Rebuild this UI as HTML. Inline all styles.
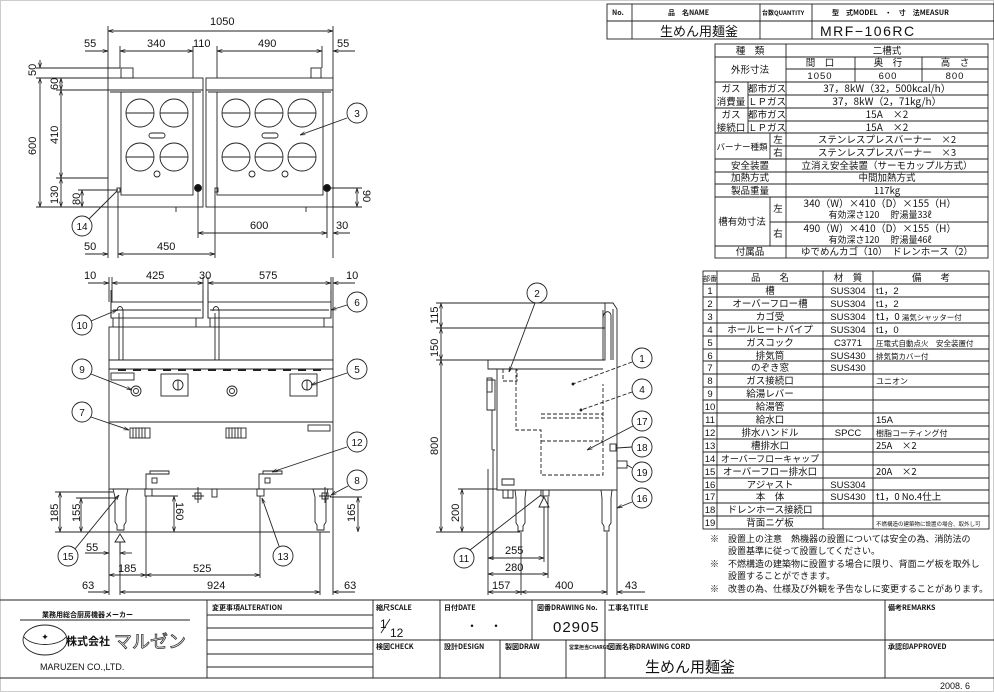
<!DOCTYPE html>
<html><head><meta charset="utf-8"><style>
html,body{margin:0;padding:0;background:#fff}
svg{display:block}
text{font-family:"Liberation Sans","Noto Sans CJK JP",sans-serif;fill:#111}
.j{font-family:"Noto Sans CJK JP","Liberation Sans",sans-serif}
</style></head><body>
<svg width="994" height="692" viewBox="0 0 994 692" xmlns="http://www.w3.org/2000/svg">
<defs>
<marker id="a" viewBox="0 0 10 10" refX="10" refY="5" markerWidth="6" markerHeight="6" orient="auto-start-reverse"><path d="M0,2 L10,5 L0,8" fill="none" stroke="#222" stroke-width="1.2"/></marker>
</defs>
<rect x="0.5" y="0.5" width="993" height="691" fill="none" stroke="#ccc"/>
<g stroke="#222" stroke-width="0.9" fill="none">
<!-- TOP VIEW -->
<rect x="108" y="78" width="95" height="129"/>
<rect x="206" y="78" width="127" height="129"/>
<line x1="108" y1="90" x2="203" y2="90"/><line x1="206" y1="90" x2="333" y2="90"/>
<line x1="110" y1="92" x2="201" y2="92"/><line x1="208" y1="92" x2="331" y2="92"/>
<rect x="121" y="92" width="72" height="103"/><rect x="217" y="92" width="106" height="103"/>
<rect x="121" y="68" width="12" height="10"/><rect x="311" y="68" width="10" height="10"/>
<g>
<circle cx="140" cy="113" r="14"/><circle cx="174" cy="113" r="14"/><circle cx="140" cy="157" r="14"/><circle cx="174" cy="157" r="14"/>
<circle cx="236" cy="113" r="14"/><circle cx="269" cy="113" r="14"/><circle cx="302" cy="113" r="14"/>
<circle cx="236" cy="157" r="14"/><circle cx="269" cy="157" r="14"/><circle cx="302" cy="157" r="14"/>
<path d="M126,113h28M160,113h28M126,157h28M160,157h28M222,113h28M255,113h28M288,113h28M222,157h28M255,157h28M288,157h28"/>
<rect x="149" y="133" width="16" height="5" rx="2.5"/><rect x="262" y="133" width="16" height="5" rx="2.5"/>
<circle cx="157" cy="174" r="3"/><circle cx="252" cy="174" r="3"/><circle cx="285" cy="174" r="3"/>
</g>
<circle cx="198" cy="188" r="3.5" fill="#111"/><circle cx="327" cy="188" r="3.5" fill="#111"/>
<rect x="117" y="188" width="3" height="4"/><rect x="215" y="188" width="3" height="4"/>
<path d="M176,207v5M306,207v5"/>
<line x1="108" y1="31" x2="333" y2="31" marker-start="url(#a)" marker-end="url(#a)"/>
<line x1="108" y1="26" x2="108" y2="78"/><line x1="333" y1="26" x2="333" y2="78"/>
<line x1="120" y1="51" x2="193" y2="51" marker-start="url(#a)" marker-end="url(#a)"/>
<line x1="217" y1="51" x2="322" y2="51" marker-start="url(#a)" marker-end="url(#a)"/>
<line x1="85" y1="51" x2="108" y2="51" marker-end="url(#a)"/><line x1="355" y1="51" x2="333" y2="51" marker-end="url(#a)"/>
<line x1="193" y1="46" x2="193" y2="78"/><line x1="217" y1="46" x2="217" y2="78"/><line x1="120" y1="46" x2="120" y2="68"/><line x1="322" y1="46" x2="322" y2="68"/>
<line x1="36" y1="68" x2="120" y2="68"/><line x1="36" y1="78" x2="108" y2="78"/><line x1="56" y1="90" x2="108" y2="90"/><line x1="56" y1="178" x2="108" y2="178"/><line x1="36" y1="207" x2="108" y2="207"/><line x1="78" y1="190" x2="118" y2="190"/>
<line x1="40" y1="78" x2="40" y2="207" marker-start="url(#a)" marker-end="url(#a)"/><line x1="40" y1="60" x2="40" y2="68" marker-end="url(#a)"/>
<line x1="61" y1="90" x2="61" y2="178" marker-start="url(#a)" marker-end="url(#a)"/><line x1="61" y1="178" x2="61" y2="207" marker-start="url(#a)" marker-end="url(#a)"/><line x1="61" y1="78" x2="61" y2="90" marker-start="url(#a)" marker-end="url(#a)"/>
<line x1="82" y1="190" x2="82" y2="207" marker-start="url(#a)" marker-end="url(#a)"/>
<line x1="357" y1="188" x2="357" y2="207" marker-start="url(#a)" marker-end="url(#a)"/><line x1="330" y1="188" x2="362" y2="188"/><line x1="333" y1="207" x2="362" y2="207"/>
<line x1="198" y1="190" x2="198" y2="238"/><line x1="327" y1="190" x2="327" y2="238"/><line x1="333" y1="207" x2="333" y2="258"/>
<line x1="198" y1="233" x2="327" y2="233" marker-start="url(#a)" marker-end="url(#a)"/><line x1="350" y1="233" x2="333" y2="233" marker-end="url(#a)"/>
<line x1="108" y1="207" x2="108" y2="258"/><line x1="118" y1="192" x2="118" y2="258"/><line x1="215" y1="192" x2="215" y2="258"/>
<line x1="85" y1="254" x2="108" y2="254" marker-end="url(#a)"/><line x1="118" y1="254" x2="215" y2="254" marker-start="url(#a)" marker-end="url(#a)"/>
<circle cx="357" cy="113" r="10"/><line x1="347" y1="118" x2="300" y2="135" marker-end="url(#a)"/>
<circle cx="82" cy="226" r="10"/><line x1="89" y1="219" x2="117" y2="191"/>

<!-- FRONT VIEW -->
<path d="M111,290v28M203,290v28M208,290v28M331,290v28"/>
<rect x="111" y="302" width="92" height="16"/><rect x="208" y="302" width="123" height="16"/>
<line x1="113" y1="310" x2="201" y2="310"/><line x1="210" y1="310" x2="329" y2="310"/>
<path d="M113,318v9M196,318v9M210,318v9M324,318v9"/>
<rect x="109" y="327" width="224" height="33"/>
<rect x="109" y="360" width="224" height="9"/>
<path d="M117,311c0,-6 6,-6 6,0v49M119,313v47M213,311c0,-6 6,-6 6,0v49M215,313v47"/>
<rect x="109" y="369" width="224" height="120"/>
<line x1="109" y1="422" x2="333" y2="422"/>
<path stroke-width="2" d="M118,370h8M133,370h8M148,370h8M163,370h8M178,370h8M193,370h8M208,370h8M223,370h8M238,370h8M253,370h8M268,370h8M283,370h8M298,370h8M313,370h8"/>
<rect x="111" y="373" width="23" height="7"/><rect x="308" y="425" width="22" height="6"/>
<rect x="161" y="374" width="27" height="22"/><rect x="290" y="374" width="27" height="22"/>
<circle cx="178" cy="385" r="5"/><line x1="178" y1="380" x2="178" y2="390"/><circle cx="307" cy="385" r="5"/><line x1="307" y1="380" x2="307" y2="390"/>
<circle cx="136" cy="391" r="5"/><circle cx="136" cy="391" r="2.5"/><circle cx="232" cy="391" r="5"/><circle cx="232" cy="391" r="2.5"/>
<rect x="130" y="428" width="20" height="10"/><rect x="226" y="428" width="20" height="10"/>
<path d="M133,428v10M136,428v10M139,428v10M142,428v10M145,428v10M229,428v10M232,428v10M235,428v10M238,428v10M241,428v10"/>
<path d="M146,489v-15h4v-3h19v3h-19"/><rect x="152" y="478" width="5" height="5"/><rect x="145" y="489" width="7" height="7"/>
<path d="M259,489v-15h4v-3h19v3h-19"/><rect x="265" y="478" width="5" height="5"/><rect x="257" y="489" width="7" height="7"/>
<path d="M113,489h15l-2,8v25l-2,3v5h-7v-5l-2,-3v-25z"/><path d="M313,489h15l-2,8v25l-2,3v5h-7v-5l-2,-3v-25z"/>
<rect x="195" y="493" width="6" height="6"/><path d="M198,487v16M192,496h12"/><rect x="212" y="489" width="5" height="8"/>
<rect x="322" y="493" width="6" height="6"/><path d="M325,487v16M319,496h12"/>
<path d="M120,534l-5,8h10z"/><line x1="120" y1="542" x2="120" y2="555"/>
<line x1="109" y1="277" x2="109" y2="302"/><line x1="112" y1="277" x2="112" y2="302"/><line x1="203" y1="277" x2="203" y2="302"/><line x1="208" y1="277" x2="208" y2="302"/><line x1="331" y1="277" x2="331" y2="302"/><line x1="333" y1="277" x2="333" y2="327"/>
<line x1="112" y1="283" x2="203" y2="283" marker-start="url(#a)" marker-end="url(#a)"/><line x1="208" y1="283" x2="331" y2="283" marker-start="url(#a)" marker-end="url(#a)"/>
<line x1="88" y1="283" x2="109" y2="283" marker-end="url(#a)"/><line x1="355" y1="283" x2="333" y2="283" marker-end="url(#a)"/>
<line x1="55" y1="492" x2="113" y2="492"/><line x1="76" y1="498" x2="118" y2="498"/><line x1="55" y1="532" x2="330" y2="532"/><line x1="330" y1="497" x2="362" y2="497"/>
<line x1="60" y1="492" x2="60" y2="532" marker-start="url(#a)" marker-end="url(#a)"/>
<line x1="81" y1="498" x2="81" y2="532" marker-start="url(#a)" marker-end="url(#a)"/>
<line x1="174" y1="496" x2="174" y2="532" marker-start="url(#a)" marker-end="url(#a)"/><line x1="152" y1="496" x2="178" y2="496"/>
<line x1="358" y1="497" x2="358" y2="532" marker-start="url(#a)" marker-end="url(#a)"/>
<line x1="109" y1="489" x2="109" y2="595"/><line x1="146" y1="496" x2="146" y2="578"/><line x1="260" y1="496" x2="260" y2="578"/><line x1="320" y1="532" x2="320" y2="595"/><line x1="333" y1="489" x2="333" y2="595"/>
<line x1="85" y1="553" x2="109" y2="553" marker-end="url(#a)"/><line x1="132" y1="553" x2="120" y2="553" marker-end="url(#a)"/>
<line x1="109" y1="575" x2="146" y2="575" marker-start="url(#a)" marker-end="url(#a)"/><line x1="146" y1="575" x2="260" y2="575" marker-start="url(#a)" marker-end="url(#a)"/>
<line x1="120" y1="592" x2="320" y2="592" marker-start="url(#a)" marker-end="url(#a)"/><line x1="88" y1="592" x2="109" y2="592" marker-end="url(#a)"/><line x1="355" y1="592" x2="333" y2="592" marker-end="url(#a)"/><line x1="120" y1="542" x2="120" y2="595"/>
<circle cx="82" cy="325" r="10"/><line x1="91" y1="321" x2="117" y2="310" marker-end="url(#a)"/>
<circle cx="357" cy="302" r="10"/><line x1="347" y1="305" x2="331" y2="310" marker-end="url(#a)"/>
<circle cx="82" cy="369" r="10"/><line x1="91" y1="374" x2="132" y2="390" marker-end="url(#a)"/>
<circle cx="357" cy="369" r="10"/><line x1="347" y1="373" x2="311" y2="385" marker-end="url(#a)"/>
<circle cx="82" cy="412" r="10"/><line x1="91" y1="417" x2="129" y2="430" marker-end="url(#a)"/>
<circle cx="357" cy="442" r="10"/><line x1="347" y1="447" x2="272" y2="472" marker-end="url(#a)"/>
<circle cx="357" cy="480" r="10"/><line x1="348" y1="486" x2="331" y2="495" marker-end="url(#a)"/>
<circle cx="68" cy="556" r="10"/><line x1="75" y1="549" x2="119" y2="495" marker-end="url(#a)"/>
<circle cx="283" cy="556" r="10"/><line x1="279" y1="546" x2="262" y2="498" marker-end="url(#a)"/>

<!-- SIDE VIEW -->
<path d="M488,360h117v-57h8l4,6v181h-120v-121h-9z"/>
<line x1="488" y1="369" x2="603" y2="369"/><line x1="603" y1="310" x2="603" y2="360"/><line x1="613" y1="309" x2="613" y2="360"/>
<path d="M603,318c0,-8 8,-8 8,-2v44" />
<path stroke-dasharray="4,2" d="M516,369v61h25v45h62v-91M541,414h62M541,418h62M541,441h62"/>
<path stroke-dasharray="4,2" d="M503,369v12h14v-12"/>
<path d="M495,380h-8v30h8zM492,410v40M495,450h-2v110M493,460v100"/>
<rect x="487" y="378" width="5" height="14"/>
<path d="M502,479h12v6h-12zM503,490v8h10v-8M508,490v8"/>
<path d="M515,490h11l-1,8v25l-2,3v5h-5v-5l-2,-3v-25z"/><path d="M601,490h11l-1,8v25l-2,3v5h-5v-5l-2,-3v-25z"/>
<rect x="541" y="490" width="8" height="6"/><path d="M543,490v8"/>
<path d="M544,497l-5,10h10z"/><line x1="544" y1="507" x2="544" y2="562"/>
<rect x="610" y="444" width="6" height="7"/><rect x="617" y="461" width="10" height="7"/>
<line x1="617" y1="490" x2="617" y2="595"/><line x1="607" y1="532" x2="607" y2="595"/><line x1="488" y1="469" x2="488" y2="595"/><line x1="548" y1="497" x2="548" y2="578"/><line x1="521" y1="532" x2="521" y2="595"/>
<line x1="436" y1="303" x2="613" y2="303"/><line x1="436" y1="328" x2="605" y2="328"/><line x1="436" y1="360" x2="488" y2="360"/><line x1="436" y1="532" x2="520" y2="532"/><line x1="458" y1="489" x2="497" y2="489"/>
<line x1="441" y1="303" x2="441" y2="328" marker-start="url(#a)" marker-end="url(#a)"/><line x1="441" y1="328" x2="441" y2="360" marker-start="url(#a)" marker-end="url(#a)"/><line x1="441" y1="360" x2="441" y2="532" marker-start="url(#a)" marker-end="url(#a)"/>
<line x1="462" y1="489" x2="462" y2="532" marker-start="url(#a)" marker-end="url(#a)"/>
<line x1="488" y1="558" x2="544" y2="558" marker-start="url(#a)" marker-end="url(#a)"/>
<line x1="488" y1="574" x2="548" y2="574" marker-start="url(#a)" marker-end="url(#a)"/>
<line x1="488" y1="592" x2="521" y2="592" marker-start="url(#a)" marker-end="url(#a)"/><line x1="521" y1="592" x2="607" y2="592" marker-start="url(#a)" marker-end="url(#a)"/><line x1="617" y1="592" x2="645" y2="592" marker-start="url(#a)"/>
<circle cx="537" cy="293" r="10"/><line x1="535" y1="303" x2="509" y2="372" marker-end="url(#a)"/>
<circle cx="642" cy="358" r="10"/><line x1="632" y1="362" x2="573" y2="384" stroke-dasharray="4,2"/>
<circle cx="642" cy="389" r="10"/><line x1="632" y1="392" x2="581" y2="410" stroke-dasharray="4,2"/>
<circle cx="642" cy="421" r="10"/><line x1="633" y1="426" x2="587" y2="450" marker-end="url(#a)"/>
<circle cx="642" cy="447" r="10"/><line x1="632" y1="447" x2="617" y2="448"/>
<circle cx="642" cy="472" r="10"/><line x1="632" y1="468" x2="627" y2="465"/>
<circle cx="642" cy="498" r="10"/><line x1="632" y1="502" x2="617" y2="508" marker-end="url(#a)"/>
<circle cx="464" cy="558" r="10"/><line x1="470" y1="550" x2="541" y2="495"/>
<circle cx="573" cy="384" r="1" fill="#111"/><circle cx="581" cy="410" r="1" fill="#111"/>
</g>

<g font-size="11">
<text x="210" y="25">1050</text>
<text x="84" y="47">55</text><text x="147" y="47">340</text><text x="193" y="47">110</text><text x="258" y="47">490</text><text x="337" y="47">55</text>
<text x="250" y="229">600</text><text x="336" y="229">30</text>
<text x="84" y="250">50</text><text x="157" y="250">450</text>
<text transform="translate(36,76) rotate(-90)">50</text>
<text transform="translate(36,155) rotate(-90)">600</text>
<text transform="translate(58,90) rotate(-90)">60</text>
<text transform="translate(58,144) rotate(-90)">410</text>
<text transform="translate(58,204) rotate(-90)">130</text>
<text transform="translate(80,205) rotate(-90)">80</text>
<text transform="translate(363,190) rotate(90)">90</text>
<text x="84" y="279">10</text><text x="146" y="279">425</text><text x="199" y="279">30</text><text x="259" y="279">575</text><text x="346" y="279">10</text>
<text transform="translate(58,522) rotate(-90)">185</text>
<text transform="translate(80,522) rotate(-90)">155</text>
<text transform="translate(176,502) rotate(90)">160</text>
<text transform="translate(355,522) rotate(-90)">165</text>
<text x="86" y="551">55</text><text x="118" y="572">185</text><text x="193" y="572">525</text>
<text x="82" y="589">63</text><text x="207" y="589">924</text><text x="344" y="589">63</text>
<text transform="translate(438,324) rotate(-90)">115</text>
<text transform="translate(438,357) rotate(-90)">150</text>
<text transform="translate(438,455) rotate(-90)">800</text>
<text transform="translate(459,522) rotate(-90)">200</text>
<text x="505" y="554">255</text><text x="505" y="571">280</text>
<text x="492" y="589">157</text><text x="555" y="589">400</text><text x="625" y="589">43</text>
</g>
<g font-size="10" text-anchor="middle">
<text x="357" y="117">3</text><text x="82" y="230">14</text>
<text x="82" y="329">10</text><text x="357" y="306">6</text><text x="82" y="373">9</text><text x="357" y="373">5</text><text x="82" y="416">7</text><text x="357" y="446">12</text><text x="357" y="484">8</text><text x="68" y="560">15</text><text x="283" y="560">13</text>
<text x="537" y="297">2</text><text x="642" y="362">1</text><text x="642" y="393">4</text><text x="642" y="425">17</text><text x="642" y="451">18</text><text x="642" y="476">19</text><text x="642" y="502">16</text><text x="464" y="562">11</text>
</g>

<g stroke="#222" stroke-width="0.9" fill="none">
<rect x="607" y="4" width="387" height="35"/>
<line x1="607" y1="21" x2="994" y2="21"/>
<line x1="632" y1="4" x2="632" y2="39"/><line x1="760" y1="4" x2="760" y2="39"/><line x1="812" y1="4" x2="812" y2="39"/>
</g>
<g font-size="7" font-weight="bold">
<text x="612" y="15" class="j">No.</text>
<text x="668" y="15" class="j">品　名NAME</text>
<text x="762" y="15" class="j" font-size="6">台数QUANTITY</text>
<text x="832" y="15" class="j">型　式MODEL　・　寸　法MEASUR</text>
</g>
<text x="660" y="36" class="j" font-size="13">生めん用麺釜</text>
<text x="820" y="36" font-size="14" letter-spacing="1.5">MRF−106RC</text>

<g stroke="#222" stroke-width="0.9" fill="none">
<rect x="715" y="44" width="273" height="214"/>
<line x1="786" y1="44" x2="786" y2="258"/>
<path d="M715,57H988M786,69H988M715,82H988M748,95H988M715,108H988M748,121H988M715,133H988M770,146H988M715,159H988M715,172H988M715,184H988M715,197H988M770,222H988M715,246H988"/>
<path d="M855,57V82M922,57V82M748,82V133M770,133V159M770,197V246"/>
</g>
<g font-size="9.5" text-anchor="middle">
<text x="750" y="54" class="j">種　類</text><text x="887" y="54" class="j">二槽式</text>
<text x="750" y="73" class="j">外形寸法</text>
<text x="820" y="66" class="j">間　口</text><text x="888" y="66" class="j">奥　行</text><text x="955" y="66" class="j">高　さ</text>
<text x="820" y="79" letter-spacing="1">1050</text><text x="888" y="79" letter-spacing="1">600</text><text x="955" y="79" letter-spacing="1">800</text>
<text x="731" y="92" class="j">ガス</text><text x="731" y="105" class="j">消費量</text>
<text x="767" y="92" class="j">都市ガス</text><text x="767" y="105" class="j">ＬＰガス</text>
<text x="887" y="92" class="j" font-size="10">37，8kW（32，500kcal/h）</text><text x="887" y="105" class="j" font-size="10">37，8kW（2，71kg/h）</text>
<text x="731" y="118" class="j">ガス</text><text x="731" y="131" class="j">接続口</text>
<text x="767" y="118" class="j">都市ガス</text><text x="767" y="131" class="j">ＬＰガス</text>
<text x="887" y="118" class="j" font-size="10">15A　×2</text><text x="887" y="131" class="j" font-size="10">15A　×2</text>
<text x="742" y="150" class="j" font-size="8.5">バーナー種類</text><text x="778" y="143" class="j">左</text><text x="778" y="156" class="j">右</text>
<text x="887" y="143" class="j">ステンレスプレスバーナー　×2</text><text x="887" y="156" class="j">ステンレスプレスバーナー　×3</text>
<text x="750" y="169" class="j">安全装置</text><text x="887" y="169" class="j">立消え安全装置（サーモカップル方式）</text>
<text x="750" y="181" class="j">加熱方式</text><text x="887" y="181" class="j">中間加熱方式</text>
<text x="750" y="194" class="j">製品重量</text><text x="887" y="194" class="j">117kg</text>
<text x="742" y="225" class="j">槽有効寸法</text><text x="778" y="212" class="j">左</text><text x="778" y="237" class="j">右</text>
<text x="880" y="207" class="j" font-size="10">340（W）×410（D）×155（H）</text><text x="880" y="218" class="j" font-size="9">有効深さ120　 貯湯量33ℓ</text>
<text x="880" y="232" class="j" font-size="10">490（W）×410（D）×155（H）</text><text x="880" y="243" class="j" font-size="9">有効深さ120　 貯湯量46ℓ</text>
<text x="750" y="255" class="j">付属品</text><text x="887" y="255" class="j">ゆでめんカゴ（10）　ドレンホース（2）</text>
</g>

<g stroke="#222" stroke-width="0.9" fill="none">
<rect x="703" y="271" width="286" height="258"/>
<path d="M717,271V529M823,271V529M873,271V529"/>
<path d="M703,284H989M703,297H989M703,310H989M703,323H989M703,336H989M703,349H989M703,361H989M703,374H989M703,387H989M703,400H989M703,413H989M703,426H989M703,439H989M703,452H989M703,465H989M703,478H989M703,490H989M703,503H989M703,516H989"/>
</g>
<g font-size="9.5">
<g text-anchor="middle">
<text x="710" y="281" font-size="7" class="j">部番</text><text x="770" y="281" class="j">品　　名</text><text x="848" y="281" class="j">材　質</text><text x="931" y="281" class="j">備　　考</text>
<text x="710" y="294">1</text><text x="710" y="307">2</text><text x="710" y="320">3</text><text x="710" y="333">4</text><text x="710" y="346">5</text><text x="710" y="359">6</text><text x="710" y="371">7</text><text x="710" y="384">8</text><text x="710" y="397">9</text><text x="710" y="410">10</text><text x="710" y="423">11</text><text x="710" y="436">12</text><text x="710" y="449">13</text><text x="710" y="462">14</text><text x="710" y="475">15</text><text x="710" y="488">16</text><text x="710" y="500">17</text><text x="710" y="513">18</text><text x="710" y="526">19</text>
<text x="770" y="294" class="j">槽</text><text x="770" y="307" class="j">オーバーフロー槽</text><text x="770" y="320" class="j">カゴ受</text><text x="770" y="333" class="j">ホールヒートパイプ</text><text x="770" y="346" class="j">ガスコック</text><text x="770" y="359" class="j">排気筒</text><text x="770" y="371" class="j">のぞき窓</text><text x="770" y="384" class="j">ガス接続口</text><text x="770" y="397" class="j">給湯レバー</text><text x="770" y="410" class="j">給湯管</text><text x="770" y="423" class="j">給水口</text><text x="770" y="436" class="j">排水ハンドル</text><text x="770" y="449" class="j">槽排水口</text><text x="770" y="462" class="j" font-size="9">オーバーフローキャップ</text><text x="770" y="475" class="j">オーバーフロー排水口</text><text x="770" y="488" class="j">アジャスト</text><text x="770" y="500" class="j">本　体</text><text x="770" y="513" class="j">ドレンホース接続口</text><text x="770" y="526" class="j">背面ニゲ板</text>
<text x="848" y="294">SUS304</text><text x="848" y="307">SUS304</text><text x="848" y="320">SUS304</text><text x="848" y="333">SUS304</text><text x="848" y="346">C3771</text><text x="848" y="359">SUS430</text><text x="848" y="371">SUS430</text><text x="848" y="436">SPCC</text><text x="848" y="488">SUS304</text><text x="848" y="500">SUS430</text>
</g>
<text x="876" y="294">t1，2</text><text x="876" y="307">t1，2</text><text x="876" y="320" class="j">t1，0 <tspan font-size="7.5">湯気シャッター付</tspan></text><text x="876" y="333">t1，0</text>
<text x="876" y="346" font-size="7.5" class="j">圧電式自動点火　安全装置付</text><text x="876" y="359" font-size="7.5" class="j">排気筒カバー付</text>
<text x="876" y="384" font-size="8" class="j">ユニオン</text><text x="876" y="423">15A</text><text x="876" y="436" font-size="8" class="j">樹脂コーティング付</text>
<text x="876" y="449" class="j">25A　×2</text><text x="876" y="475" class="j">20A　×2</text><text x="876" y="500" class="j">t1，0 No.4仕上</text>
<text x="876" y="526" font-size="5.5" class="j">不燃構造の建築物に設置の場合、取外し可</text>
<g font-size="9">
<text x="710" y="542" class="j">※　設置上の注意　熱機器の設置については安全の為、消防法の</text>
<text x="728" y="554" class="j">設置基準に従って設置してください。</text>
<text x="710" y="567" class="j">※　不燃構造の建築物に設置する場合に限り、背面ニゲ板を取外し</text>
<text x="728" y="579" class="j">設置することができます。</text>
<text x="710" y="592" class="j">※　改善の為、仕様及び外観を予告なしに変更することがあります。</text>
</g>
</g>

<g stroke="#222" stroke-width="0.9" fill="none">
<line x1="0" y1="600" x2="994" y2="600"/><line x1="0" y1="678" x2="994" y2="678"/>
<line x1="373" y1="640" x2="994" y2="640"/>
<path d="M207,600V678M373,600V678M440,600V678M532,600V640M605,600V678M885,600V678M500,640V678M566,640V678"/>
<path d="M207,615H373M207,628H373M207,640H373M207,654H373M207,667H373"/>
<line x1="20" y1="620" x2="190" y2="620"/>
<ellipse cx="45" cy="640" rx="22" ry="15"/>
<path d="M24,637c8,10 34,10 42,0"/>
<line x1="381" y1="633" x2="390" y2="619"/>
</g>
<g font-size="7" font-weight="bold">
<text x="42" y="617" class="j">業務用総合厨房機器メーカー</text>
<text x="212" y="610" class="j">変更事項ALTERATION</text>
<text x="376" y="610" class="j">縮尺SCALE</text><text x="444" y="610" class="j">日付DATE</text><text x="537" y="610" class="j">図番DRAWING No.</text><text x="608" y="610" class="j">工事名TITLE</text><text x="888" y="610" class="j">備考REMARKS</text>
<text x="376" y="649" class="j">検図CHECK</text><text x="444" y="649" class="j">設計DESIGN</text><text x="505" y="649" class="j">製図DRAW</text><text x="569" y="649" font-size="5" class="j">営業担当CHARGE</text><text x="608" y="649" class="j">図面名称DRAWING CORD</text><text x="888" y="649" class="j">承認印APPROVED</text>
</g>
<text x="66" y="645" class="j" font-size="11" font-weight="bold">株式会社</text>
<text x="114" y="648" class="j" font-size="18" stroke="#333" stroke-width="0.8" style="fill:none">マルゼン</text>
<text x="45" y="640" font-size="9" text-anchor="middle">✦</text>
<text x="40" y="670" font-size="9">MARUZEN CO.,LTD.</text>
<text x="380" y="628" font-size="12">1</text><text x="390" y="637" font-size="12">12</text>
<text x="466" y="630" font-size="12">・　・</text>
<text x="553" y="632" font-size="15" letter-spacing="1">02905</text>
<text x="645" y="672" class="j" font-size="15">生めん用麺釜</text>
<text x="940" y="689" font-size="9">2008. 6</text>
</svg>
</body></html>
